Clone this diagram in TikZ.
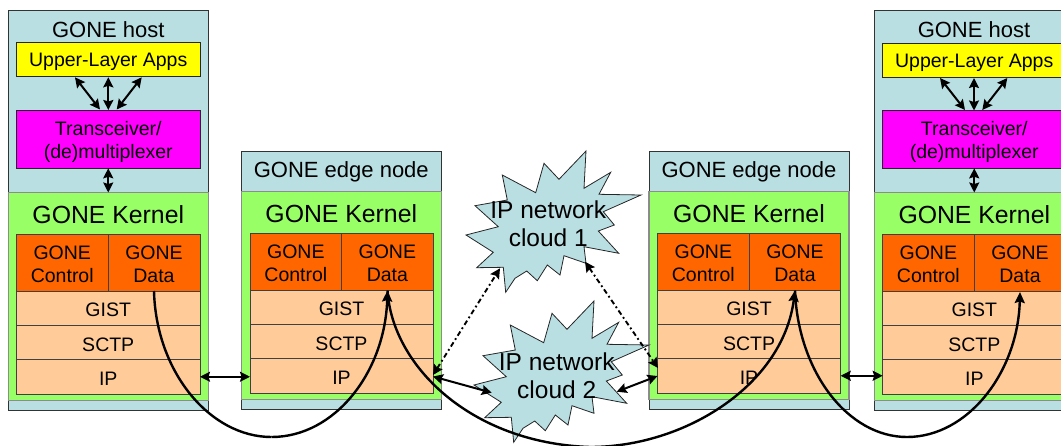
\documentclass[tikz,border=0pt]{standalone}
\usepackage{fontspec}
\setmainfont{Liberation Sans}
\usetikzlibrary{arrows.meta}
\definecolor{hostblue}{HTML}{B9DFE3}
\definecolor{kgreen}{HTML}{99FF66}
\definecolor{korange}{HTML}{FF6600}
\definecolor{kpeach}{HTML}{FFCC99}
\definecolor{kmagenta}{HTML}{FF00FF}
\definecolor{kyellow}{HTML}{FFFF00}
\newcommand{\bx}[7]{%
  \pgfmathsetmacro{\bcx}{((#3)+(#5))/2}\pgfmathsetmacro{\bcy}{((#4)+(#6))/2}%
  \pgfmathsetmacro{\bw}{(#5)-(#3)}\pgfmathsetmacro{\bh}{(#6)-(#4)}%
  \pgfmathsetmacro{\bty}{\bcy+2.2}%
  \node[#2,minimum width=\bw pt,minimum height=\bh pt] (#1) at (\bcx,\bcy) {};
  \node[boxtext] (#1txt) at (\bcx,\bty) {#7};}
% one stack: prefix, outer left, outer top, outer right, inner left, divider, inner right, y-shift
\newcommand{\stack}[8]{%
  \bx{#1blue}{hostbox}{#2}{#3}{#4}{#8+410}{}
  \bx{#1green}{kernelbox}{#2}{#8+192.5}{#4}{#8+400.5}{}
  \pgfmathsetmacro{\kcx}{(#2+#4)/2}
  \pgfmathsetmacro{\kcy}{#8+215}
  \node[kerneltext] (#1kernel) at (\kcx,\kcy) {GONE Kernel};
  \bx{#1ctl}{databox}{#5}{#8+234}{#6}{#8+291}{GONE\\Control}
  \bx{#1data}{databox}{#6}{#8+234}{#7}{#8+291}{GONE\\Data}
  \bx{#1gist}{layerbox}{#5}{#8+291}{#7}{#8+325}{GIST}
  \bx{#1sctp}{layerbox}{#5}{#8+325}{#7}{#8+359.5}{SCTP}
  \bx{#1ip}{layerbox}{#5}{#8+359.5}{#7}{#8+394}{IP}
}
\newcommand{\cloudshape}{(586,151) -- (584,188.3) -- (610.7,172.3) -- (599,194.3) -- (641,195) -- (603.3,211.7) -- (614.3,225) -- (598.3,231) -- (618.7,253.3) -- (584,246.7) -- (586,263.3) -- (564,255.7) -- (560,275) -- (547.3,265) -- (537.3,280.7) -- (526.7,271) -- (515,278.3) -- (505.7,292.3) -- (503.3,267.3) -- (476.7,267.7) -- (493.3,252.3) -- (466,235) -- (498.3,226.7) -- (475,205.7) -- (507.3,200) -- (502.3,175) -- (535.7,192.7) -- (544,163.3) -- (559,179.3) -- cycle}
\tikzset{
  basebox/.style={draw,rectangle,inner sep=0pt,outer sep=0pt,line width=0.9pt},
  boxtext/.style={inner sep=0pt,align=center,font=\fontsize{19.5}{23}\selectfont},
  hostbox/.style={basebox,fill=hostblue,draw=black!80},
  kernelbox/.style={basebox,fill=kgreen,draw=black!45,line width=1.2pt},
  databox/.style={basebox,fill=korange,draw=black!75},
  layerbox/.style={basebox,fill=kpeach,draw=black!75},
  appbox/.style={basebox,fill=kyellow,draw=black!85},
  muxbox/.style={basebox,fill=kmagenta,draw=black!85},
  kerneltext/.style={inner sep=0pt,font=\fontsize{24.8}{28}\selectfont},
  titletext/.style={inner sep=0pt,font=\fontsize{22}{26}\selectfont},
  cloudtext/.style={inner sep=0pt,align=center,font=\fontsize{24.5}{28}\selectfont},
  cloudfill/.style={fill=hostblue,draw=black!85,line width=0.8pt,line join=miter},
  biarrow/.style={line width=2pt,{Stealth[length=10pt,width=10pt,inset=1.5pt]}-{Stealth[length=10pt,width=10pt,inset=1.5pt]}},
  dasharrow/.style={line width=1.9pt,dash pattern=on 5pt off 3pt on 1.8pt off 3pt,{Stealth[length=10pt,width=10pt,inset=1.5pt]}-{Stealth[length=10pt,width=10pt,inset=1.5pt]}},
  arc/.style={line width=2.4pt,-{Stealth[length=11pt,width=10pt,inset=1.5pt]}},
  arcplain/.style={line width=2.4pt},
}
\begin{document}
\begin{tikzpicture}[x=1pt,y=-1pt]
\useasboundingbox (0,0) rectangle (1061,445);
\clip (0,0) rectangle (1061,445);
% stacks
\stack{ha}{8.3}{10}{208.3}{16.5}{108}{200}{0}
\stack{ea}{241.3}{151.7}{441.3}{250}{341.7}{433}{-1}
\stack{eb}{649}{151.7}{849}{657.3}{749.3}{840.7}{-1}
\stack{hb}{874.3}{10}{1074.3}{882.7}{974}{1066}{0}
% titles and host boxes
\node[titletext] (hatitle) at (108.3,30) {GONE host};
\node[titletext] (hbtitle) at (974,30) {GONE host};
\node[titletext] (eatitle) at (341.3,172) {GONE edge node};
\node[titletext] (ebtitle) at (749,172) {GONE edge node};
\bx{haapp}{appbox}{16.5}{42}{200}{76.5}{Upper-Layer Apps}
\bx{hamux}{muxbox}{16.5}{110.5}{200}{168.3}{Transceiver/\\(de)multiplexer}
\bx{hbapp}{appbox}{882.5}{43}{1066}{77.3}{Upper-Layer Apps}
\bx{hbmux}{muxbox}{882.5}{110.7}{1066}{168.3}{Transceiver/\\(de)multiplexer}
% named arrow ends
\coordinate (a1t) at (75,77.3); \coordinate (a1b) at (100,109.5);
\coordinate (a2t) at (108.3,77.3); \coordinate (a2b) at (108.3,110);
\coordinate (a3t) at (141.7,77.3); \coordinate (a3b) at (116.7,109.5);
\coordinate (b1t) at (940,78); \coordinate (b1b) at (965,110);
\coordinate (b2t) at (974,78); \coordinate (b2b) at (974,110.5);
\coordinate (b3t) at (1007.3,78); \coordinate (b3b) at (982.3,110);
\draw[biarrow] (a1t) -- (a1b);
\draw[biarrow] (a2t) -- (a2b);
\draw[biarrow] (a3t) -- (a3b);
\draw[biarrow] (hamux.south) -- (108.25,192.5);
\draw[biarrow] (b1t) -- (b1b);
\draw[biarrow] (b2t) -- (b2b);
\draw[biarrow] (b3t) -- (b3b);
\draw[biarrow] (974.25,168.3) -- (974.25,192.5);
% clouds
\draw[cloudfill] \cloudshape;
\begin{scope}[shift={(8,150)}]
\draw[cloudfill] \cloudshape;
\end{scope}
% links
\coordinate (eaipr) at (433,376.5);
\coordinate (ebipl) at (657.5,376);
\coordinate (c2l) at (491.7,392.7);
\coordinate (c2r) at (616.7,391.7);
\coordinate (c1l) at (500,268.3);
\coordinate (c1r) at (585,261.7);
\coordinate (eadash) at (433,375);
\coordinate (ebdash) at (658,368);
\draw[biarrow] (haip.east) -- (eaip.west |- haip.east);
\draw[biarrow] (ebip.east) -- (hbip.west |- ebip.east);
\draw[biarrow] (eaipr) -- (c2l);
\draw[biarrow] (c2r) -- (ebipl);
\draw[dasharrow] (eadash) -- (c1l);
\draw[dasharrow] (c1r) -- (ebdash);
% cloud text
\node[cloudtext] (c1txt) at (548.3,224) {IP network\\cloud 1};
\node[cloudtext] (c2txt) at (556.7,376) {IP network\\cloud 2};
% data arcs
\coordinate (haout) at (154,291);
\coordinate (eain) at (387.5,290.5);
\coordinate (ebin) at (795,290.5);
\coordinate (hbin) at (1020,292);
\coordinate (arcA) at (271.5,437);
\coordinate (arcB) at (590,447);
\coordinate (arcC) at (907,437);
\draw[arcplain] (haout) .. controls (156,372) and (210,437) .. (arcA);
\draw[arc] (arcA) .. controls (335,437) and (385,372) .. (eain);
\draw[arcplain] (eain) .. controls (392,365) and (470,443) .. (arcB);
\draw[arc] (arcB) .. controls (685,447) and (783,385) .. (ebin);
\draw[arcplain] (ebin) .. controls (798,372) and (848,437) .. (arcC);
\draw[arc] (arcC) .. controls (968,437) and (1018,372) .. (hbin);
\end{tikzpicture}
\end{document}
